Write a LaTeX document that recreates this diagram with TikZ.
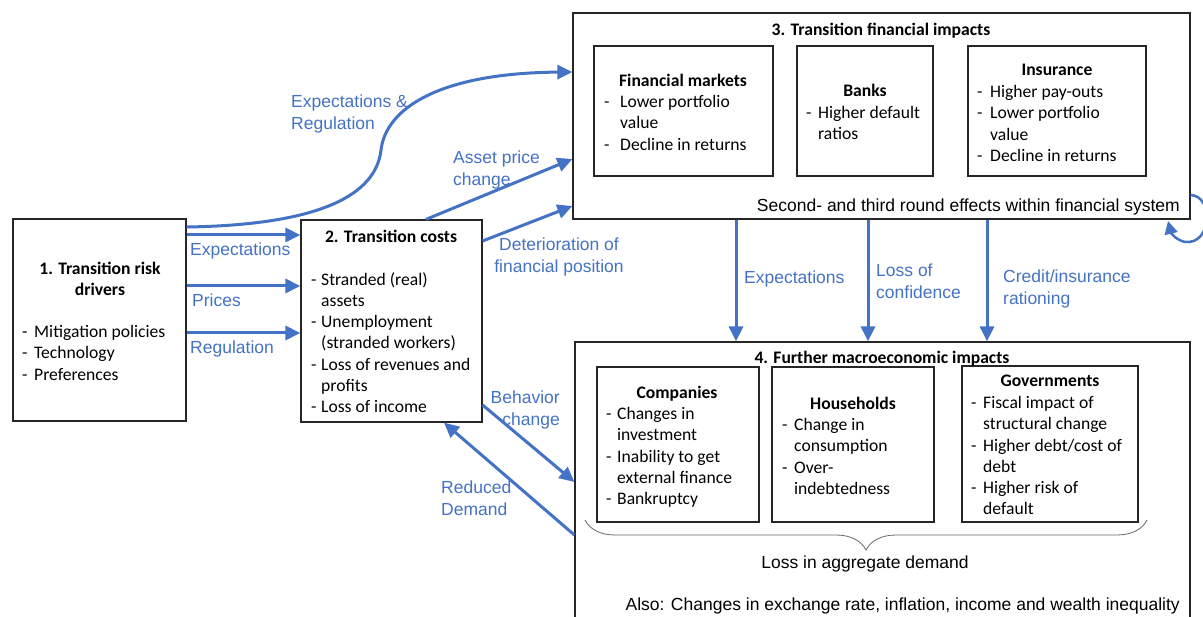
\documentclass[tikz,border=0pt]{standalone}
\usepackage{fontspec}
\setmainfont{Carlito}
\newfontfamily\arialfont{Liberation Sans}
\usetikzlibrary{arrows.meta,decorations.pathreplacing}
\definecolor{myblue}{HTML}{4472C4}
\newcommand{\dsh}[1]{\makebox[#1pt][l]{-}}
\newcommand{\ind}[1]{\hspace*{#1pt}}
\tikzset{
  box/.style={draw=black!85, line width=1.2pt, inner sep=0pt},
  bt/.style={font={\fontsize{17.6}{21.3}\selectfont\bfseries}, inner sep=0pt, align=center, yshift=-2pt},
  lt/.style={font={\fontsize{17.6}{21.3}\selectfont}, inner sep=0pt, align=left, yshift=-2pt},
  lab/.style={font={\arialfont\fontsize{17.5}{21.5}\selectfont}, text=myblue, inner sep=0pt, yshift=-2pt},
  blk/.style={font={\arialfont\fontsize{17.5}{21.5}\selectfont}, text=black, inner sep=0pt, yshift=-2pt},
  flow/.style={draw=myblue, line width=3pt, -{Triangle[length=15pt,width=14pt]}},
}
\begin{document}
\begin{tikzpicture}[x=1pt,y=-1pt]
\clip (0,0) rectangle (1203,617);
\useasboundingbox (0,0) rectangle (1203,617);

% main boxes
\node[box, minimum width=173, minimum height=202] (b1) at (99.5,320) {};
\node[box, minimum width=181, minimum height=202] (b2) at (391.5,321) {};
\node[box, minimum width=617, minimum height=206] (b3) at (881.5,116) {};
\node[box, minimum width=615, minimum height=318] (b4) at (882.5,501) {};

% inner boxes
\node[box, minimum width=179, minimum height=130] (fm) at (683.5,111) {};
\node[box, minimum width=136, minimum height=130] (bk) at (865,111) {};
\node[box, minimum width=178, minimum height=130] (ins) at (1057,111) {};
\node[box, minimum width=162, minimum height=155] (co) at (678,444.5) {};
\node[box, minimum width=162, minimum height=155] (hh) at (853,444.5) {};
\node[box, minimum width=176, minimum height=156] (gv) at (1050,444) {};

% box 1 text
\node[bt, anchor=north] (b1t) at (100,260) {1. Transition risk\\drivers};
\node[lt, anchor=north west] (b1l) at (22,323) {\dsh{12}Mitigation policies\\\dsh{12}Technology\\\dsh{12}Preferences};

% box 2 text
\node[bt, anchor=north] (b2t) at (391,228) {2. Transition costs};
\node[lt, anchor=north west] (b2l) at (311,270) {\dsh{10}Stranded (real)\\\ind{10}assets\\\dsh{10}Unemployment\\\ind{10}(stranded workers)\\\dsh{10}Loss of revenues and\\\ind{10}profits\\\dsh{10}Loss of income};

% box 3 text
\node[bt, anchor=north] (b3t) at (881,21) {3. Transition financial impacts};
\node[bt, anchor=north] (fmt) at (683,72) {Financial markets};
\node[lt, anchor=north west] (fml) at (604,93) {\dsh{16}Lower portfolio\\\ind{16}value\\\dsh{16}Decline in returns};
\node[bt, anchor=north] (bkt) at (865,82) {Banks};
\node[lt, anchor=north west] (bkl) at (806,104) {\dsh{12}Higher default\\\ind{12}ratios};
\node[bt, anchor=north] (inst) at (1057,62) {Insurance};
\node[lt, anchor=north west] (insl) at (977,83) {\dsh{13}Higher pay-outs\\\dsh{13}Lower portfolio\\\ind{13}value\\\dsh{13}Decline in returns};
\node[blk, anchor=north east] (sec) at (1180,197) {Second- and third round effects within financial system};

% box 4 text
\node[bt, anchor=north] (b4t) at (882,349) {4. Further macroeconomic impacts};
\node[bt, anchor=north] (cot) at (677,384) {Companies};
\node[lt, anchor=north west] (col) at (606,405) {\dsh{11}Changes in\\\ind{11}investment\\\dsh{11}Inability to get\\\ind{11}external finance\\\dsh{11}Bankruptcy};
\node[bt, anchor=north] (hht) at (853,395) {Households};
\node[lt, anchor=north west] (hhl) at (782,416) {\dsh{12}Change in\\\ind{12}consumption\\\dsh{12}Over-\\\ind{12}indebtedness};
\node[bt, anchor=north] (gvt) at (1050,373) {Governments};
\node[lt, anchor=north west] (gvl) at (971,394) {\dsh{12}Fiscal impact of\\\ind{12}structural change\\\dsh{12}Higher debt/cost of\\\ind{12}debt\\\dsh{12}Higher risk of\\\ind{12}default};
\draw[decorate, decoration={brace, amplitude=30pt, mirror}, black!60, line width=0.8pt] (585,520) -- (1147,520);
\node[blk, anchor=north] (lad) at (865,554) {Loss in aggregate demand};
\node[blk, anchor=north east] (also) at (1180,596) {Also: Changes in exchange rate, inflation, income and wealth inequality};

% connectors
\draw[flow] (b1.east |- 0,227) .. controls (320,225) and (376,195) .. (381,150)
  .. controls (386,108) and (440,73) .. (b3.west |- 0,72);
\node[lab, anchor=north west, align=left] (l1) at (291,93) {Expectations \&\\Regulation};

\draw[flow] (b1.east |- 0,235) -- (b2.west |- 0,235);
\node[lab, anchor=north west] (l2) at (190,241) {Expectations};
\draw[flow] (b1.east |- 0,286) -- (b2.west |- 0,286);
\node[lab, anchor=north west] (l3) at (192,292) {Prices};
\draw[flow] (b1.east |- 0,333) -- (b2.west |- 0,333);
\node[lab, anchor=north west] (l4) at (190,339) {Regulation};

\draw[flow] (b2.north -| 426,0) -- (b3.west |- 0,159);
\node[lab, anchor=north west, align=left] (l5) at (453,149) {Asset price\\change};
\draw[flow] (b2.east |- 0,241) -- (b3.west |- 0,206);
\node[lab, anchor=north, align=center] (l6) at (559,236) {Deterioration of\\financial position};

\draw[flow] (b2.east |- 0,405) -- (b4.west |- 0,482);
\node[lab, anchor=north east, align=right] (l7) at (560,389) {Behavior\\change};
\draw[flow] (b4.west |- 0,535) -- (b2.south -| 444,0);
\node[lab, anchor=north west, align=left] (l8) at (441,479) {Reduced\\Demand};

\draw[flow] (b3.south -| 736,0) -- (b4.north -| 736,0);
\node[lab, anchor=north west] (l9) at (744,269) {Expectations};
\draw[flow] (b3.south -| 868,0) -- (b4.north -| 868,0);
\node[lab, anchor=north west, align=left] (l10) at (876,262) {Loss of\\confidence};
\draw[flow] (b3.south -| 987,0) -- (b4.north -| 987,0);
\node[lab, anchor=north west, align=left] (l11) at (1003,268) {Credit/insurance\\rationing};

\coordinate (loopend) at (1168,221);
\draw[draw=myblue, line width=2.5pt, -{Triangle[length=13pt,width=13pt]}] (b3.east |- 0,195) .. controls (1214,196) and (1212,245) .. (1185,242)
  .. controls (1176,240) and (1171,233) .. (loopend);
\end{tikzpicture}
\end{document}
